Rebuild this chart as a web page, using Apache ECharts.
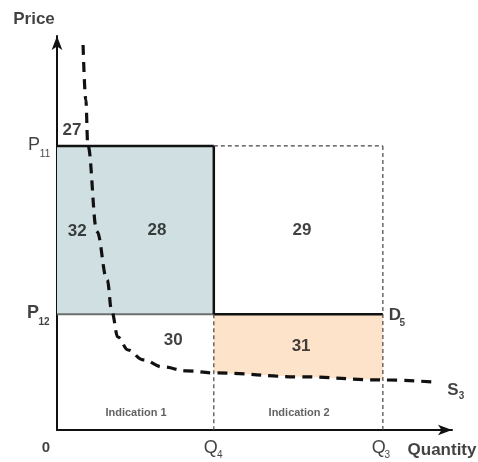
<!DOCTYPE html>
<html>
<head>
<meta charset="utf-8">
<script src="https://cdn.jsdelivr.net/npm/echarts@6/dist/echarts.min.js"></script>
<style>html,body{margin:0;padding:0;background:#fff}#c{width:478px;height:462px}</style>
</head>
<body>
<div id="c"></div>
<script>
// ---- data ----
const Q4 = 39.7, Q3 = 82.5, P11 = 72.1, P12 = 29.4;
const supplyX = [6.6, 7.3, 7.8, 10.1, 12.7, 13.9, 15.4, 18.0, 21.8, 26.8, 32.9, 39.7, 61.5, 82.5, 95.2];
const supplyY = [97.7, 83.8, 72.3, 50.4, 38.1, 29.9, 23.6, 20.3, 17.8, 16.0, 15.0, 14.5, 13.5, 12.7, 12.2];
const areaNames = ['27', '32', '28', '29', '30', '31'];
const areaX = [3.8, 5.1, 25.3, 62.0, 29.4, 61.8];
const areaY = [76.1, 50.5, 50.8, 50.8, 22.8, 21.3];
const indicationNames = ['Indication 1', 'Indication 2'];
const indicationX = [20.0, 61.3];
const indicationY = [4.3, 4.3];

const FONT = "'Liberation Sans', Arial, sans-serif";
const supply = supplyX.map((x, i) => [x, supplyY[i]]);
const last = supply[supply.length - 1];

function seg(a, b, style) {
  return { type: 'line', data: [a, b], symbol: 'none', silent: true, lineStyle: style, z: 3 };
}
function poly(points, color) {
  return {
    type: 'custom', silent: true, z: 1,
    renderItem: function (params, api) {
      return { type: 'polygon', shape: { points: points.map(p => api.coord(p)) }, style: { fill: color } };
    },
    data: [0]
  };
}
function lbl(pt, text, label) {
  return { type: 'scatter', symbolSize: 0, silent: true, clip: false, z: 5,
    data: [{ value: pt, label: Object.assign({ show: true, position: 'inside', formatter: text, fontFamily: FONT, color: '#111' }, label) }] };
}
// main letter + subscript, each centred at a pixel offset from its anchor point
function subLabel(pt, main, sub, mOff, sOff, size, weight) {
  series.push(lbl(pt, main, { offset: mOff, fontSize: size, fontWeight: weight }));
  series.push(lbl(pt, sub, { offset: sOff, fontSize: 10, fontWeight: weight }));
}

const orangePts = [[Q4, P12], [Q3, P12]].concat(supply.filter(p => p[0] >= Q4 && p[0] <= Q3).reverse());
const blackLine = { color: '#111', width: 2.5, type: 'solid' };
const thinDash = { color: '#444', width: 1.2, type: [4, 3] };

const series = [
  poly([[0, P11], [Q4, P11], [Q4, P12], [0, P12]], '#d0e0e2'),
  poly(orangePts, '#fce3ca'),
  seg([0, P12], [Q4, P12], { color: '#6e6e6e', width: 2 }),
  seg([0, P11], [Q4, P11], blackLine),
  seg([Q4, P11], [Q4, P12], blackLine),
  seg([Q4, P12], [Q3, P12], blackLine),
  seg([Q4, P11], [Q3, P11], thinDash),
  seg([Q3, P11], [Q3, 0], thinDash),
  seg([Q4, P12], [Q4, 0], thinDash),
  { type: 'line', data: supply, symbol: 'none', smooth: 0.4, smoothMonotone: 'x', silent: true, z: 4,
    lineStyle: { color: '#111', width: 3.2, type: [10, 7] } }
];
areaNames.forEach((t, i) => series.push(lbl([areaX[i], areaY[i]], t, { fontSize: 17, fontWeight: 'bold' })));
indicationNames.forEach((t, i) => series.push(lbl([indicationX[i], indicationY[i]], t, { fontSize: 11, fontWeight: 'bold', color: '#3a3a3a' })));
subLabel([0, P11], 'P', '11', [-23, -1], [-12, 8.5], 18, 'normal');
subLabel([0, P12], 'P', '12', [-24, -1], [-13, 8.5], 18, 'bold');
subLabel([Q4, 0], 'Q', '4', [-3, 18.5], [6, 25.5], 18, 'normal');
subLabel([Q3, 0], 'Q', '3', [-4, 18.5], [4.5, 25], 18, 'normal');
subLabel([Q3, P12], 'D', '5', [12, 1.5], [19.5, 9.5], 17, 'bold');
subLabel(last, 'S', '3', [20, 8], [28.5, 14.5], 17, 'bold');
series.push(lbl([0, 0], '0', { offset: [-11, 18], fontSize: 15, fontWeight: 'bold' }));
series.push(lbl([0, 100], 'Price', { offset: [-23, -17], fontSize: 17, fontWeight: 'bold' }));
series.push(lbl([100, 0], 'Quantity', { offset: [-10, 20], fontSize: 17, fontWeight: 'bold' }));

const axisCommon = {
  type: 'value', min: 0, max: 100,
  axisLine: { show: true, symbol: ['none', 'arrow'], symbolSize: [8, 14], lineStyle: { color: '#111', width: 2 } },
  axisTick: { show: false }, axisLabel: { show: false }, splitLine: { show: false }
};
const chart = echarts.init(document.getElementById('c'), null, { renderer: 'canvas' });
chart.setOption({
  animation: false,
  grid: { left: 57, right: 26, top: 36, bottom: 32 },
  xAxis: axisCommon,
  yAxis: axisCommon,
  series: series
});
</script>
</body>
</html>
